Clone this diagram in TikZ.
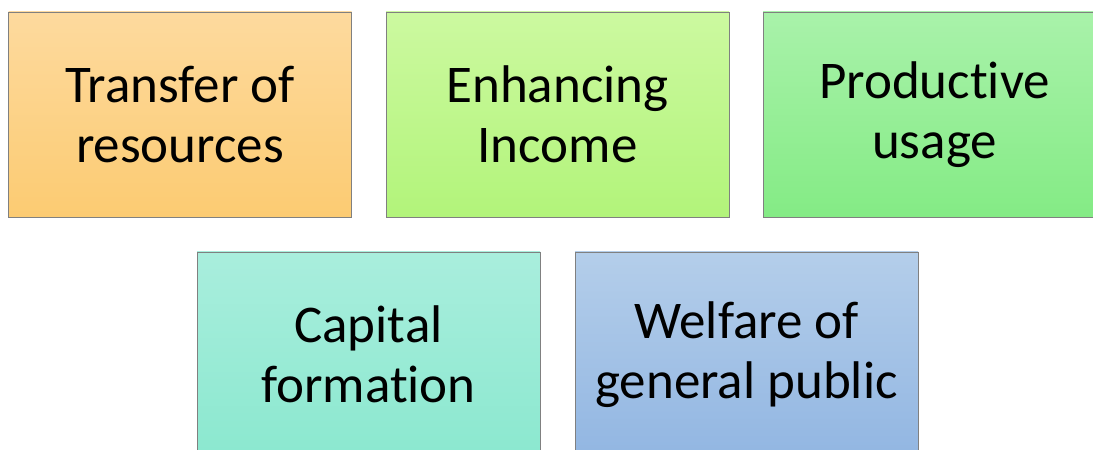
\documentclass[tikz,border=0pt]{standalone}
\usepackage{fontspec}
\setmainfont[Ligatures=NoCommon]{Carlito}
\begin{document}
\begin{tikzpicture}[x=1pt,y=1pt,
  card/.style={draw=black!50, line width=0.9pt, minimum width=343pt, minimum height=205pt,
    inner sep=0pt, align=center, shading=axis, shading angle=0,
    font=\fontsize{53}{60}\selectfont},
  orangecard/.style={card, top color=orTop, bottom color=orBot},
  limecard/.style={card, top color=liTop, bottom color=liBot},
  greencard/.style={card, top color=grTop, bottom color=grBot},
  tealcard/.style={card, top color=teTop, bottom color=teBot},
  bluecard/.style={card, top color=blTop, bottom color=blBot}]
\definecolor{orTop}{HTML}{FDDA9E}
\definecolor{orBot}{HTML}{FCCB72}
\definecolor{liTop}{HTML}{CCF9A0}
\definecolor{liBot}{HTML}{B2F47A}
\definecolor{grTop}{HTML}{A9F2AA}
\definecolor{grBot}{HTML}{84EB85}
\definecolor{teTop}{HTML}{A9EEDD}
\definecolor{teBot}{HTML}{8BE8CF}
\definecolor{blTop}{HTML}{B4CEEA}
\definecolor{blBot}{HTML}{92B6E2}
\useasboundingbox (0,0) rectangle (1093,450);
\clip (0,0) rectangle (1093,450);
% top row
\node[orangecard] (transfer) at (180,335.5) {Transfer of\\resources};
\node[limecard]   (income)   at (557.5,335.5) {Enhancing\\Income};
\node[greencard]  (usage)    at (934.5,335.5) {Productive\\usage};
% bottom row
\node[tealcard]   (capital)  at (368.5,95.5) {Capital\\formation};
\node[bluecard]   (welfare)  at (746.5,95.5) {Welfare of\\general public};
\end{tikzpicture}
\end{document}
